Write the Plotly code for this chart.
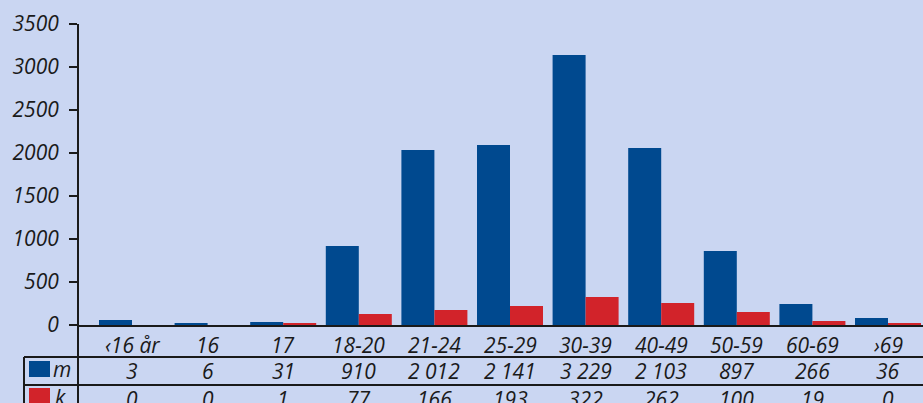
import plotly.graph_objects as go

# ---- data ----
categories = ["\u203916 år", "16", "17", "18-20", "21-24", "25-29", "30-39",
              "40-49", "50-59", "60-69", "\u203a69"]
# bar heights as drawn in the chart
bars_m = [58, 15, 35, 919, 2035, 2093, 3140, 2058, 860, 244, 81]
bars_k = [0, 0, 15, 128, 174, 221, 326, 256, 151, 47, 15]
# values printed in the table below the chart
table_m = [3, 6, 31, 910, 2012, 2141, 3229, 2103, 897, 266, 36]
table_k = [0, 0, 1, 77, 166, 193, 322, 262, 100, 19, 0]
y_ticks = [0, 500, 1000, 1500, 2000, 2500, 3000, 3500]
series_names = ["m", "k"]

BLUE = "#00498f"
RED = "#d2232a"
BG = "#cad6f2"
INK = "#1a1a1a"
FONT = "Open Sans"

W, H = 923, 403
ML, MR, MT, MB = 78, 0, 24, 78
PW = W - ML - MR
PH = H - MT - MB

def px_x(X):
    return (X - ML) / PW

def px_y(Y):
    return (H - MB - Y) / PH

xs = list(range(len(categories)))
bw = 0.4365

fig = go.Figure()
fig.add_trace(go.Bar(x=xs, y=bars_m, name=series_names[0], marker_color=BLUE,
                     marker_line_width=0, width=bw, offset=-bw))
fig.add_trace(go.Bar(x=xs, y=bars_k, name=series_names[1], marker_color=RED,
                     marker_line_width=0, width=bw, offset=0))

def fmt(v):
    s = f"{v:,}"
    return s.replace(",", " ")

ann = []
tfont = dict(family=FONT, size=21, color=INK, style="italic")
for i, c in enumerate(categories):
    ann.append(dict(x=i, y=px_y(345), xref="x", yref="paper", text=c,
                    showarrow=False, xanchor="center", yanchor="middle", font=tfont))
    ann.append(dict(x=i, y=px_y(371), xref="x", yref="paper", text=fmt(table_m[i]),
                    showarrow=False, xanchor="center", yanchor="middle", font=tfont))
    ann.append(dict(x=i, y=px_y(399), xref="x", yref="paper", text=fmt(table_k[i]),
                    showarrow=False, xanchor="center", yanchor="middle", font=tfont))
ann.append(dict(x=px_x(51), y=px_y(369), xref="paper", yref="paper", text=series_names[0],
                showarrow=False, xanchor="left", yanchor="middle", font=tfont))
ann.append(dict(x=px_x(53), y=px_y(397), xref="paper", yref="paper", text=series_names[1],
                showarrow=False, xanchor="left", yanchor="middle", font=tfont))

line = dict(color=INK, width=2)
shapes = [
    # vertical axis line, extended through the table
    dict(type="line", xref="paper", yref="paper", x0=0, x1=0, y0=px_y(H + 2), y1=1, line=line),
    # table horizontal lines
    dict(type="line", xref="paper", yref="paper", x0=px_x(24), x1=1, y0=px_y(357), y1=px_y(357), line=line),
    dict(type="line", xref="paper", yref="paper", x0=px_x(24), x1=1, y0=px_y(385), y1=px_y(385), line=line),
    # table left border
    dict(type="line", xref="paper", yref="paper", x0=px_x(24), x1=px_x(24), y0=px_y(H + 2), y1=px_y(357), line=line),
    # legend swatches
    dict(type="rect", xref="paper", yref="paper", x0=px_x(29), x1=px_x(50), y0=px_y(377), y1=px_y(361),
         fillcolor=BLUE, line_width=0),
    dict(type="rect", xref="paper", yref="paper", x0=px_x(29), x1=px_x(50), y0=px_y(H + 2), y1=px_y(388),
         fillcolor=RED, line_width=0),
]

x0 = -(132 - ML) / 75.6
x1 = (W - 132) / 75.6

fig.update_layout(
    width=W, height=H,
    margin=dict(l=ML, r=MR, t=MT, b=MB, pad=0),
    paper_bgcolor=BG, plot_bgcolor=BG,
    showlegend=False,
    barmode="overlay",
    annotations=ann,
    shapes=shapes,
    font=dict(family=FONT, color=INK),
    xaxis=dict(range=[x0, x1], showgrid=False, zeroline=False, showticklabels=False,
               ticks="", showline=True, linecolor=INK, linewidth=2, fixedrange=True),
    yaxis=dict(range=[0, 3500], tickvals=y_ticks, showgrid=False, zeroline=False,
               ticks="outside", ticklen=8, tickwidth=2, tickcolor=INK,
               showline=False, ticklabelstandoff=6,
               tickfont=dict(family=FONT, size=21, color=INK, style="italic")),
)

fig.write_html("out.html", config={"displayModeBar": False})

with open("out.html", "r", encoding="utf-8") as f:
    html = f.read()
html = html.replace("<head>", "<head><style>html,body{margin:0;padding:0;overflow:hidden;background:%s}</style>" % BG, 1)
with open("out.html", "w", encoding="utf-8") as f:
    f.write(html)
